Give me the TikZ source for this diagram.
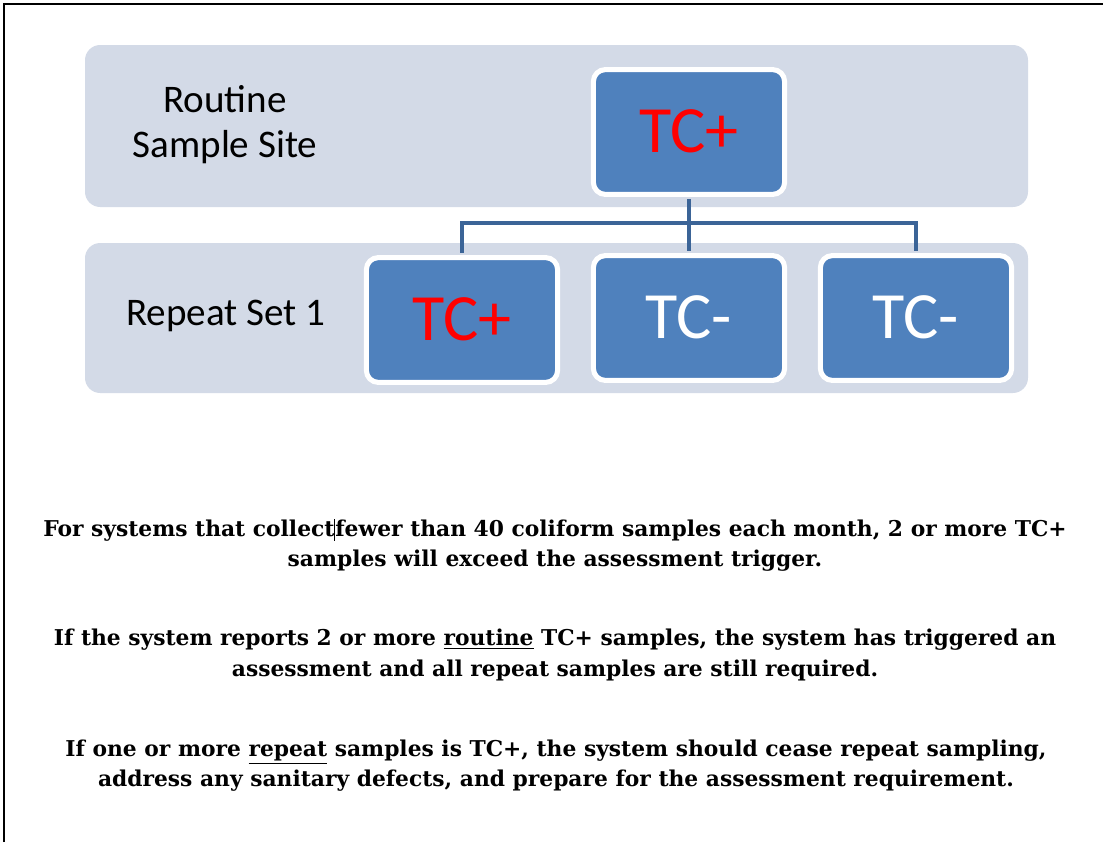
\documentclass[tikz,border=0pt]{standalone}
\usepackage{fontspec}
\setmainfont{Carlito}
\newfontfamily\notefont{DejaVu Serif}
\definecolor{bandgray}{HTML}{D3DAE7}
\definecolor{boxblue}{HTML}{4F81BD}
\definecolor{linkblue}{HTML}{3B6497}
\definecolor{plusred}{HTML}{FF0000}

\begin{document}
\begin{tikzpicture}[
  x=0.025cm, y=-0.025cm,
  band/.style={fill=bandgray, rounded corners=0.38cm},
  result/.style={
    rectangle,
    rounded corners=0.3cm,
    fill=boxblue,
    draw=white,
    line width=3.6pt,
    minimum width=4.78cm,
    minimum height=3.12cm,
    inner sep=0pt,
    text depth=0.2em,
    font=\fontsize{47}{50}\selectfont
  },
  rowlabel/.style={align=center, font=\fontsize{27.8}{32}\selectfont},
  link/.style={draw=linkblue, line width=2.2pt},
  note/.style={align=center, font=\notefont\bfseries\fontsize{15.5}{21.4}\selectfont}
]
  \useasboundingbox (0,0) rectangle (1103,842);
  \draw[line width=1.6pt] (4,842) -- (4,4) -- (1103,4);

  \fill[band] (85,45) rectangle (1028,207);
  \fill[band] (85,243) rectangle (1028,393);

  \node[rowlabel] (routine) at (225,125) {Routine\\Sample Site};
  \node[rowlabel] (repeat) at (226,316) {Repeat Set 1};

  \coordinate (hub) at (689,223);
  \node[result, text=plusred] (site) at (689,132) {TC+};
  \node[result, text=plusred] (r1) at (462,320) {TC+};
  \node[result, text=white] (r2) at (689,318) {TC-};
  \node[result, text=white] (r3) at (916,318) {TC-};

  \draw[link, shorten <=1.8pt] (site.south) -- (hub);
  \draw[link, shorten >=1.8pt] (hub) -| (r1.north);
  \draw[link, shorten >=1.8pt] (hub) -- (r2.north);
  \draw[link, shorten >=1.8pt] (hub) -| (r3.north);

  \node[note] (trigger) at (555,545) {For systems that collect\rule[-0.2em]{0.6pt}{1em}fewer than 40 coliform samples each month, 2 or more TC+\\samples will exceed the assessment trigger.};
  \node[note] (routinenote) at (555,655) {If the system reports 2 or more \underline{routine} TC+ samples, the system has triggered an\\assessment and all repeat samples are still required.};
  \node[note] (repeatnote) at (556,766) {If one or more \underline{repeat} samples is TC+, the system should cease repeat sampling,\\address any sanitary defects, and prepare for the assessment requirement.};
\end{tikzpicture}
\end{document}
